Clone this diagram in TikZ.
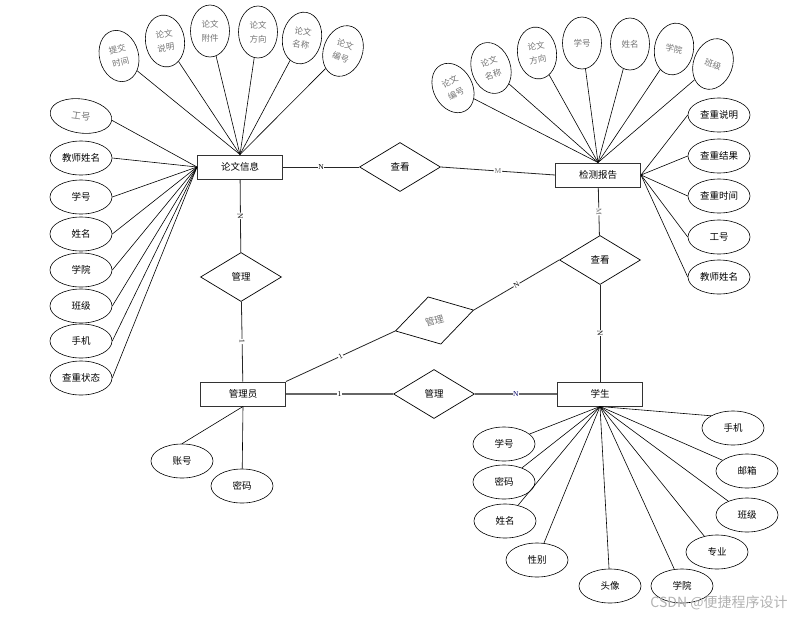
\documentclass[tikz,border=0pt]{standalone}
\usepackage{fontspec}
\setmainfont{Noto Sans CJK SC}
\newfontfamily\cardfont{Liberation Serif}
\usetikzlibrary{shapes.geometric}

\begin{document}
\begin{tikzpicture}[x=1pt, y=-1pt,
    font=\fontsize{9.5}{11}\selectfont,
    entity/.style={draw=black!80, line width=1pt, minimum width=85pt, minimum height=24pt, inner sep=0pt},
    attr/.style={draw, ellipse, line width=0.6pt, minimum width=62pt, minimum height=34pt, inner sep=0pt},
    tallattr/.style={draw, ellipse, line width=0.6pt, minimum width=39pt, minimum height=52pt, inner sep=0pt, align=center, text=black!55, font=\fontsize{8.5}{13.5}\selectfont},
    rel/.style={draw, diamond, line width=0.7pt, minimum width=81pt, minimum height=49pt, inner sep=0pt},
    attrline/.style={line width=0.6pt},
    link/.style={line width=0.8pt, draw=black!85},
    heavylink/.style={line width=1.2pt, draw=black!60},
    card/.style={fill=white, inner sep=0.6pt, font=\cardfont\fontsize{7.5}{8}\selectfont}
]
    \useasboundingbox (0,0) rectangle (804,619);

    % Entities
    \node[entity] (lwxx) at (240,167) {论文信息};
    \node[entity] (jcbg) at (598,175) {检测报告};
    \node[entity] (gly) at (243,394) {管理员};
    \node[entity] (xs) at (600,394) {学生};

    % Relationships
    \node[rel] (ck1) at (400,167) {查看};
    \node[rel] (ck2) at (600,260) {查看};
    \node[rel] (gl1) at (241,277) {管理};
    \node[rel, rotate=15, text=black!55] (gl2) at (434.5,320.5) {管理};
    \node[rel] (gl3) at (434,394) {管理};

    % Attributes of lwxx, top
    \node[tallattr, rotate=15] (lw1) at (119,56) {提交\\时间};
    \node[tallattr, rotate=8] (lw2) at (165,41) {论文\\说明};
    \node[tallattr] (lw3) at (210,31) {论文\\附件};
    \node[tallattr] (lw4) at (258,32) {论文\\方向};
    \node[tallattr, rotate=-10] (lw5) at (302,38) {论文\\名称};
    \node[tallattr, rotate=-20] (lw6) at (343,51) {论文\\编号};

    % Attributes of lwxx, left
    \node[attr, text=black!55, rotate=-8] (lw7) at (81,116) {工号};
    \node[attr] (lw8) at (81,158) {教师姓名};
    \node[attr] (lw9) at (81,197) {学号};
    \node[attr] (lw10) at (81,234) {姓名};
    \node[attr] (lw11) at (81,270) {学院};
    \node[attr] (lw12) at (81,306) {班级};
    \node[attr] (lw13) at (81,341) {手机};
    \node[attr] (lw14) at (81,378) {查重状态};

    % Attributes of jcbg, top
    \node[tallattr, rotate=28] (jc1) at (453,88) {论文\\编号};
    \node[tallattr, rotate=18] (jc2) at (491,68) {论文\\名称};
    \node[tallattr, rotate=8] (jc3) at (537,53) {论文\\方向};
    \node[tallattr] (jc4) at (582,43) {学号};
    \node[tallattr] (jc5) at (630,44) {姓名};
    \node[tallattr, rotate=-10] (jc6) at (674,49) {学院};
    \node[tallattr, rotate=-20] (jc7) at (713,64) {班级};

    % Attributes of jcbg, right
    \node[attr] (jc8) at (719,115) {查重说明};
    \node[attr] (jc9) at (719,156) {查重结果};
    \node[attr] (jc10) at (719,196) {查重时间};
    \node[attr] (jc11) at (719,237) {工号};
    \node[attr] (jc12) at (719,277) {教师姓名};

    % Attributes of gly
    \node[attr] (gly1) at (182,461) {账号};
    \node[attr] (gly2) at (242,486) {密码};

    % Attributes of xs
    \node[attr] (xs1) at (504,444) {学号};
    \node[attr] (xs2) at (504,482) {密码};
    \node[attr] (xs3) at (505,521) {姓名};
    \node[attr] (xs4) at (537,560) {性别};
    \node[attr] (xs5) at (610,586) {头像};
    \node[attr] (xs6) at (682,586) {学院};
    \node[attr] (xs7) at (717,552) {专业};
    \node[attr] (xs8) at (747,515) {班级};
    \node[attr] (xs9) at (747,471) {邮箱};
    \node[attr] (xs10) at (733,428) {手机};

    % Attribute lines
    \draw[attrline] (lw1) -- (lwxx.north);
    \draw[attrline] (lw2) -- (lwxx.north);
    \draw[attrline] (lw3) -- (lwxx.north);
    \draw[attrline] (lw4) -- (lwxx.north);
    \draw[attrline] (lw5) -- (lwxx.north);
    \draw[attrline] (lw6) -- (lwxx.north);
    \draw[attrline] (lw7.east) -- (lwxx.west);
    \draw[attrline] (lw8.east) -- (lwxx.west);
    \draw[attrline] (lw9.east) -- (lwxx.west);
    \draw[attrline] (lw10.east) -- (lwxx.west);
    \draw[attrline] (lw11.east) -- (lwxx.west);
    \draw[attrline] (lw12.east) -- (lwxx.west);
    \draw[attrline] (lw13.east) -- (lwxx.west);
    \draw[attrline] (lw14.east) -- (lwxx.west);

    \draw[attrline] (jc1) -- (jcbg.north);
    \draw[attrline] (jc2) -- (jcbg.north);
    \draw[attrline] (jc3) -- (jcbg.north);
    \draw[attrline] (jc4) -- (jcbg.north);
    \draw[attrline] (jc5) -- (jcbg.north);
    \draw[attrline] (jc6) -- (jcbg.north);
    \draw[attrline] (jc7) -- (jcbg.north);
    \draw[attrline] (jc8.west) -- (jcbg.east);
    \draw[attrline] (jc9.west) -- (jcbg.east);
    \draw[attrline] (jc10.west) -- (jcbg.east);
    \draw[attrline] (jc11.west) -- (jcbg.east);
    \draw[attrline] (jc12.west) -- (jcbg.east);

    \draw[attrline] (gly1.north) -- (gly.south);
    \draw[attrline] (gly2) -- (gly.south);

    \draw[attrline] (xs1) -- (xs.south);
    \draw[attrline] (xs2) -- (xs.south);
    \draw[attrline] (xs3) -- (xs.south);
    \draw[attrline] (xs4) -- (xs.south);
    \draw[attrline] (xs5) -- (xs.south);
    \draw[attrline] (xs6) -- (xs.south);
    \draw[attrline] (xs7) -- (xs.south);
    \draw[attrline] (xs8) -- (xs.south);
    \draw[attrline] (xs9) -- (xs.south);
    \draw[attrline] (xs10.north west) -- (xs.south);

    % Relationship lines with cardinalities
    \draw[link] (lwxx) -- node[card] {N} (ck1);
    \draw[link] (ck1.east) -- node[card, text=black!55] {M} (jcbg.west);
    \draw[link] (lwxx) -- node[card, sloped] {N} (gl1);
    \draw[link] (gl1) -- node[card, sloped] {1} (gly);
    \draw[link] (jcbg) -- node[card, sloped, text=black!55] {M} (ck2);
    \draw[link] (ck2) -- node[card, sloped] {N} (xs);
    \draw[link] (gly.north east) -- node[card, sloped] {1} (gl2.west);
    \draw[link] (gl2.east) -- node[card, sloped] {N} (ck2.west);
    \draw[heavylink] (gly) -- node[card] {1} (gl3);
    \draw[heavylink] (gl3) -- node[card, text=blue!40!black] {N} (xs);

    % Watermark
    \node[text=black!30, font=\fontsize{14}{16}\selectfont] (mark) at (719,603) {CSDN @便捷程序设计};
\end{tikzpicture}
\end{document}
